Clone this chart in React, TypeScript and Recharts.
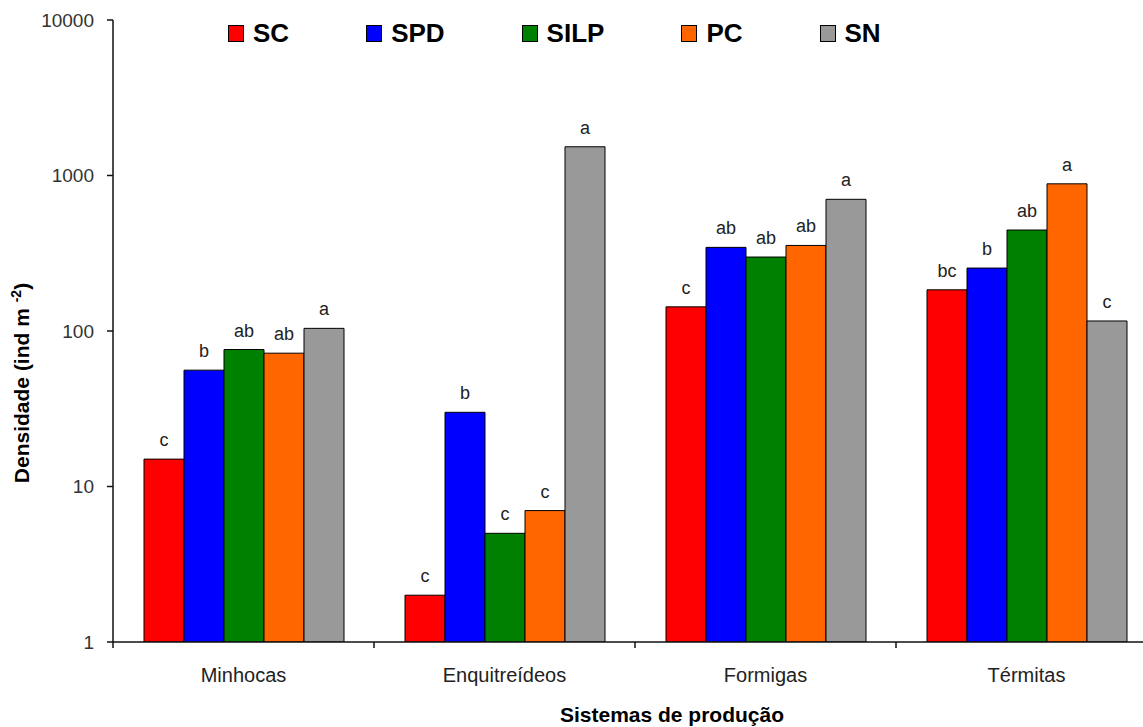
import { BarChart, Bar, XAxis, YAxis, Legend, LabelList } from "recharts";

const categories = ["Minhocas", "Enquitreídeos", "Formigas", "Térmitas"];

// densities (ind m-2)
const sc = [15, 2, 143, 184];
const spd = [56, 30, 345, 254];
const silp = [76, 5, 299, 446];
const pc = [72, 7, 355, 884];
const sn = [104, 1530, 703, 116];

// significance letters above each bar
const scLetters = ["c", "c", "c", "bc"];
const spdLetters = ["b", "b", "ab", "b"];
const silpLetters = ["ab", "c", "ab", "ab"];
const pcLetters = ["ab", "c", "ab", "a"];
const snLetters = ["a", "a", "a", "c"];

const yTicks = [1, 10, 100, 1000, 10000];

const SERIES = [
  { key: "SC", values: sc, letters: scLetters, color: "#FF0000" },
  { key: "SPD", values: spd, letters: spdLetters, color: "#0000FF" },
  { key: "SILP", values: silp, letters: silpLetters, color: "#008000" },
  { key: "PC", values: pc, letters: pcLetters, color: "#FF6600" },
  { key: "SN", values: sn, letters: snLetters, color: "#999999" },
];

const data = categories.map((name, i) => {
  const row: Record<string, string | number> = { name };
  SERIES.forEach((s) => {
    row[s.key] = s.values[i];
    row[`${s.key}_sig`] = s.letters[i];
  });
  return row;
});

const FONT = "Arial, 'Liberation Sans', sans-serif";

function CategoryTick(props: any) {
  const { x, y, payload } = props;
  const half = payload?.offset ?? 130.5;
  return (
    <g>
      <line x1={x - half} y1={y} x2={x - half} y2={y + 6} stroke="#111" strokeWidth={1.5} />
      <text x={x} y={y + 40} textAnchor="middle" fontSize={20} fontFamily={FONT} fill="#222">
        {payload.value}
      </text>
    </g>
  );
}

function YTitle(props: any) {
  const vb = props.viewBox || { x: 0, y: 20, width: 113, height: 622 };
  const x = vb.x + 29;
  const y = vb.y + vb.height / 2 + 52;
  return (
    <text
      x={x}
      y={y}
      transform={`rotate(-90, ${x}, ${y})`}
      textAnchor="middle"
      fontSize={21}
      fontWeight="bold"
      fontFamily={FONT}
      fill="#000"
    >
      Densidade (ind m <tspan dy={-8} fontSize={14}>-2</tspan>
      <tspan dy={8}>)</tspan>
    </text>
  );
}

function XTitle(props: any) {
  const vb = props.viewBox || { x: 113, y: 642, width: 1044, height: 85 };
  return (
    <text
      x={vb.x + vb.width / 2 + 37}
      y={vb.y + 80}
      textAnchor="middle"
      fontSize={21}
      fontWeight="bold"
      fontFamily={FONT}
      fill="#000"
    >
      Sistemas de produção
    </text>
  );
}

function LegendContent() {
  return (
    <div style={{ display: "flex", alignItems: "center", fontFamily: FONT }}>
      {SERIES.map((s) => (
        <div key={s.key} style={{ display: "flex", alignItems: "center", marginRight: 77 }}>
          <span
            style={{
              display: "inline-block",
              width: 14,
              height: 15,
              background: s.color,
              border: "1.5px solid #000",
              marginRight: 9,
            }}
          />
          <span style={{ fontSize: 26, fontWeight: "bold", color: "#000", lineHeight: "30px" }}>
            {s.key}
          </span>
        </div>
      ))}
    </div>
  );
}

export default function App() {
  return (
    <div
      style={{
        position: "absolute",
        left: 0,
        top: 0,
        width: 1143,
        height: 727,
        overflow: "hidden",
        background: "#fff",
      }}
    >
      <BarChart
        width={1157}
        height={727}
        data={data}
        margin={{ top: 20, right: 0, bottom: 0, left: 0 }}
        barGap={0}
      >
        <XAxis
          dataKey="name"
          height={85}
          tickLine={false}
          tickSize={0}
          tickMargin={0}
          tick={<CategoryTick />}
          axisLine={{ stroke: "#111", strokeWidth: 1.5 }}
          interval={0}
          label={<XTitle />}
        />
        <YAxis
          scale="log"
          domain={[1, 10000]}
          ticks={yTicks}
          allowDataOverflow
          width={113}
          tickSize={6}
          tickMargin={13}
          tick={{ fontSize: 19, fontFamily: FONT, fill: "#333" }}
          tickLine={{ stroke: "#111", strokeWidth: 1.5 }}
          axisLine={{ stroke: "#111", strokeWidth: 1.5 }}
          label={<YTitle />}
        />
        <Legend
          layout="horizontal"
          verticalAlign="middle"
          align="center"
          content={<LegendContent />}
          wrapperStyle={{ top: 18, left: 228, width: 900, height: 32 }}
        />
        {SERIES.map((s) => (
          <Bar
            key={s.key}
            dataKey={s.key}
            fill={s.color}
            stroke="#000"
            strokeWidth={1}
            barSize={40}
            isAnimationActive={false}
          >
            <LabelList
              dataKey={`${s.key}_sig`}
              position="top"
              offset={13}
              fill="#222"
              fontSize={18}
              fontFamily={FONT}
            />
          </Bar>
        ))}
      </BarChart>
    </div>
  );
}
